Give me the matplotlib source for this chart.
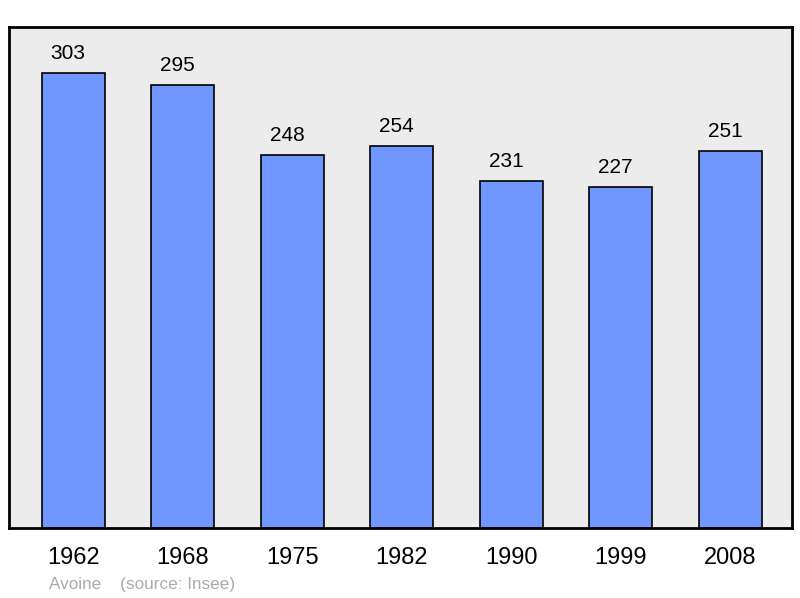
import numpy as np
import matplotlib.pyplot as plt

years = ['1962', '1968', '1975', '1982', '1990', '1999', '2008']
population = [303, 295, 248, 254, 231, 227, 251]

plt.rcParams['font.family'] = ['Liberation Sans', 'DejaVu Sans']

fig = plt.figure(figsize=(8, 5.98), dpi=100)
ax = fig.add_axes([9/800, 70/598, 783/800, 501/598])
ax.set_facecolor('#ececec')

x = np.arange(len(years))
ax.bar(x, population, width=0.575, color='#7096ff', edgecolor='black', linewidth=1.2, zorder=2)

for xi, v in zip(x, population):
    ax.annotate(str(v), (xi, v), xytext=(-3.5, 14), textcoords='offset points',
                ha='center', va='center', fontsize=15)

ax.set_xlim(-0.585, 6.565)
ax.set_ylim(0, 333.5)
ax.set_xticks(x)
ax.set_xticklabels(years, fontsize=17)
ax.tick_params(axis='x', length=0, pad=14)
ax.set_yticks([])
for s in ax.spines.values():
    s.set_linewidth(2)

fig.text(49/800, 1 - 585/598, 'Avoine    (source: Insee)', color='#aaaaaa',
         fontsize=12.3, ha='left', va='center')

fig.savefig('out.png', dpi=100)
